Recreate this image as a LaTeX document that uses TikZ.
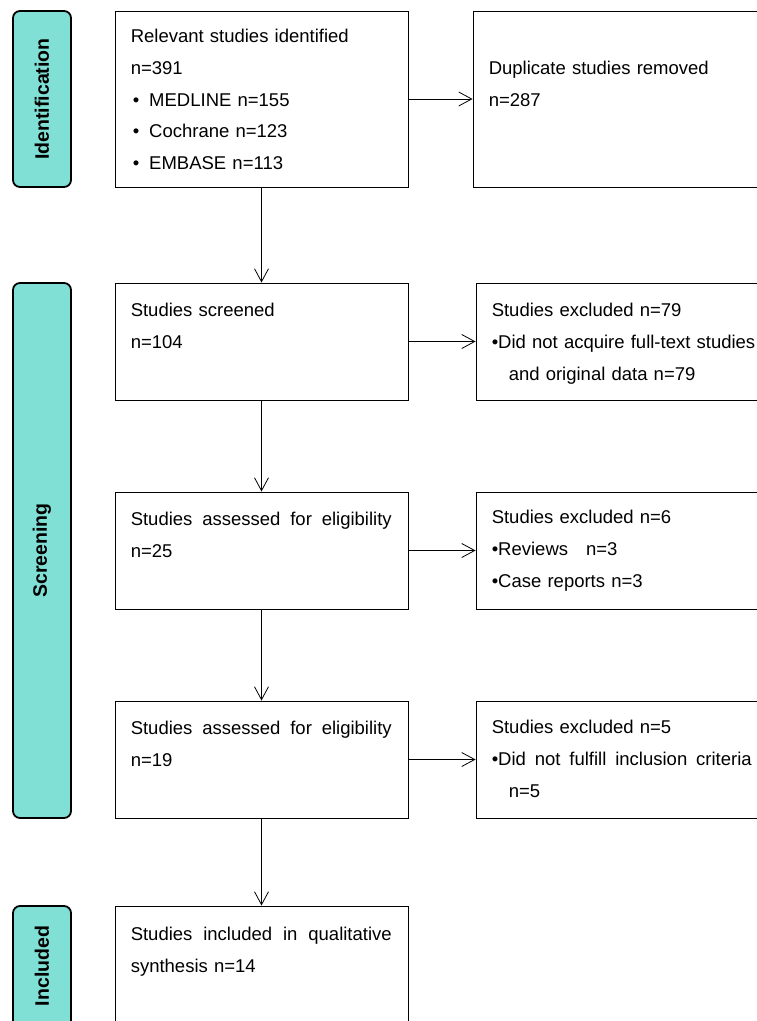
\documentclass[tikz,border=0pt]{standalone}
\usepackage{fontspec}
\setmainfont{Liberation Sans}
\usetikzlibrary{arrows.meta,positioning}
\definecolor{bandteal}{RGB}{128,224,214}

\begin{document}
\begin{tikzpicture}[x=1pt,y=-1pt,
        box/.style={draw, line width=0.9pt, minimum width=293pt, minimum height=117pt, inner sep=0pt},
        sidebox/.style={box, minimum width=300pt},
        band/.style={draw, line width=1.8pt, rounded corners=7pt, fill=bandteal, minimum width=58pt, inner sep=0pt},
        bandtext/.style={font=\fontsize{19.5}{22}\selectfont\bfseries, rotate=90, inner sep=0pt},
        txt/.style={align=left, anchor=base west, inner sep=0pt, text width=270pt, font=\fontsize{18.5}{31.8}\selectfont},
        link/.style={-{Straight Barb[length=13pt,width=14pt]}, line width=0.8pt}]
    \useasboundingbox (0,0) rectangle (757,1021);
    \clip (0,0) rectangle (757,1021);

    % stage bands
    \node [band, minimum height=176pt] (identband) at (42,99) {};
    \node [band, minimum height=535pt] (screenband) at (42,550.5) {};
    \node [band, minimum height=139pt] (inclband) at (42,975.5) {};
    \node [bandtext] (identlabel) at (identband) {Identification};
    \node [bandtext] (screenlabel) at (screenband) {Screening};
    \node [bandtext] (incllabel) at (42,966) {Included};

    % boxes
    \node [box, minimum height=176pt] (a) at (261.5,99) {};
    \node [box, minimum width=297pt, minimum height=176pt] (b) at (621.5,99) {};
    \node [box] (c) at (261.5,341.5) {};
    \node [sidebox] (d) at (626,341.5) {};
    \node [box] (e) at (261.5,550.5) {};
    \node [sidebox] (f) at (626,550.5) {};
    \node [box] (g) at (261.5,759.5) {};
    \node [sidebox] (h) at (626,759.5) {};
    \node [box, minimum height=134pt] (i) at (261.5,973) {};

    % texts
    \node [below right=32pt and 16pt of a.north west, txt] (atext) {Relevant studies identified\\
        n=391\\
        \hspace*{2pt}\textbullet\hspace{10pt}MEDLINE n=155\\
        \hspace*{2pt}\textbullet\hspace{10pt}Cochrane n=123\\
        \hspace*{2pt}\textbullet\hspace{10pt}EMBASE n=113};
    \node [below right=64pt and 16pt of b.north west, txt] (btext) {Duplicate studies removed\\
        n=287};
    \node [below right=34pt and 16pt of c.north west, txt] (ctext) {Studies screened\\
        n=104};
    \node [below right=34pt and 16pt of d.north west, txt] (dtext) {Studies excluded n=79\\
        \textbullet Did not acquire full-text studies\\
        \hspace*{17pt}and original data n=79};
    \node [below right=34pt and 16pt of e.north west, txt] (etext) {\makebox[261pt][s]{Studies\hfil assessed\hfil for\hfil eligibility}\\
        n=25};
    \node [below right=32pt and 16pt of f.north west, txt] (ftext) {Studies excluded n=6\\
        \textbullet Reviews\hspace{18pt}n=3\\
        \textbullet Case reports n=3};
    \node [below right=34pt and 16pt of g.north west, txt] (gtext) {\makebox[261pt][s]{Studies\hfil assessed\hfil for\hfil eligibility}\\
        n=19};
    \node [below right=33pt and 16pt of h.north west, txt] (htext) {Studies excluded n=5\\
        \makebox[260pt][s]{\textbullet Did\hfil not\hfil fulfill\hfil inclusion\hfil criteria}\\
        \hspace*{17pt}n=5};
    \node [below right=35pt and 16pt of i.north west, txt] (itext) {\makebox[261pt][s]{Studies\hfil included\hfil in\hfil qualitative}\\
        synthesis n=14};

    % connectors
    \draw [link] (a) -- (b);
    \draw [link] (a) -- (c);
    \draw [link] (c) -- (d);
    \draw [link] (c) -- (e);
    \draw [link] (e) -- (f);
    \draw [link] (e) -- (g);
    \draw [link] (g) -- (h);
    \draw [link] (g) -- (i);
\end{tikzpicture}
\end{document}
